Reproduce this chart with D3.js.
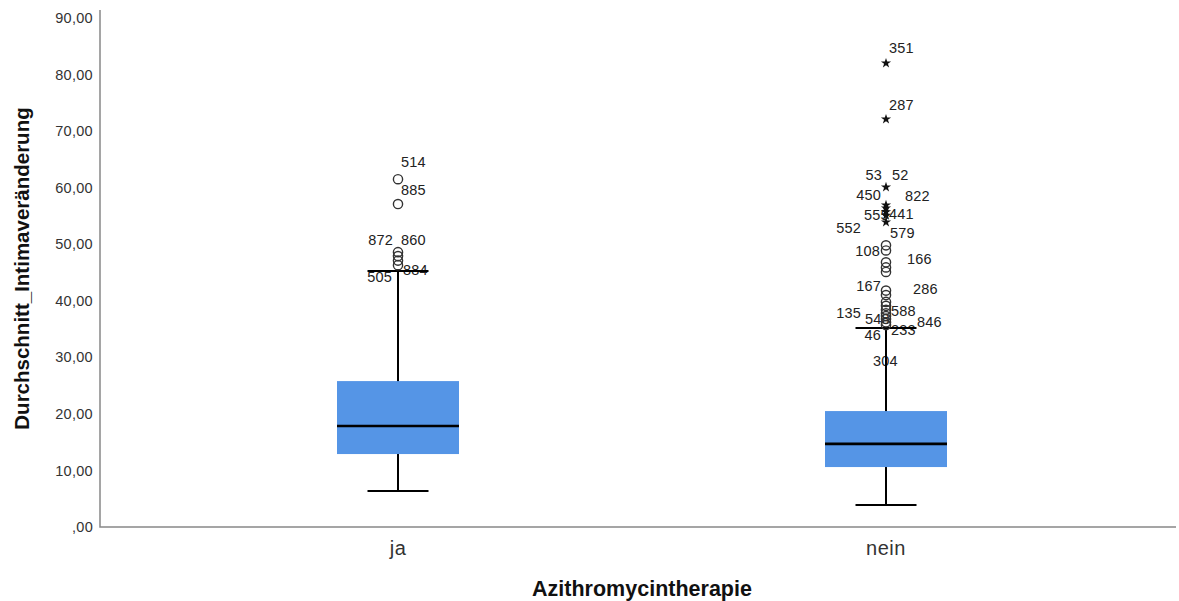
<!DOCTYPE html>
<html>
<head>
<meta charset="utf-8">
<script src="https://cdn.jsdelivr.net/npm/d3@7"></script>
<style>
  html, body { margin: 0; padding: 0; background: #fff; }
  svg { display: block; font-family: "Liberation Sans", Arial, sans-serif; }
</style>
</head>
<body>
<svg id="chart" width="1179" height="601"></svg>
<script>
// Groups and five-number summaries
const categories = ["ja", "nein"];
const q1Values = [12.9, 10.6];
const medianValues = [17.85, 14.7];
const q3Values = [25.8, 20.5];
const whiskerLow = [6.35, 3.9];
const whiskerHigh = [45.25, 35.2];

// Outliers (circles) and extreme values (stars) per group
const outliersJa = [61.5, 57.1, 48.6, 47.9, 47.1, 46.3];
const extremesJa = [];
const outliersNein = [49.8, 48.9, 46.8, 45.9, 45.1, 41.8, 41.0, 39.8, 39.1, 38.4, 37.8, 37.3, 36.8, 36.2, 35.7];
const extremesNein = [82.0, 72.1, 60.1, 56.9, 56.4, 55.7, 55.1, 53.9];

// Case numbers attached to the flagged points
const caseIdsJa = ["514", "885", "872", "860", "505", "884"];
const caseValuesJa = [61.5, 57.1, 48.6, 48.6, 46.3, 46.3];
const caseIdsNein = ["351", "287", "53", "52", "450", "822", "552", "555", "441", "579",
                     "108", "166", "167", "286", "135", "588", "548", "846", "46", "233", "304"];
const caseValuesNein = [82.0, 72.1, 60.1, 60.1, 56.9, 56.9, 53.9, 55.1, 55.7, 53.9,
                        49.8, 46.8, 41.8, 41.0, 37.8, 38.4, 36.8, 36.2, 35.7, 35.7, 35.2];

// Y tick values
const yTicks = [0, 10, 20, 30, 40, 50, 60, 70, 80, 90];

// Label placement around each point (pixel offsets, text anchor)
const labelPlacementJa = [
  [3, -17, "start"], [3, -14, "start"], [-5, -12, "end"], [3, -12, "start"],
  [-6, 12, "end"], [5, 5, "start"]
];
const labelPlacementNein = [
  [3, -15, "start"], [3, -14, "start"], [-4, -12, "end"], [6, -12, "start"],
  [-5, -10, "end"], [19, -9, "start"], [-25, 6, "end"], [-22, 0, "start"],
  [3, 2, "start"], [4, 11, "start"], [-6, 6, "end"], [21, -3, "start"],
  [-5, -5, "end"], [27, -6, "start"], [-25, 0, "end"], [5, 1, "start"],
  [-21, 0, "start"], [31, 0, "start"], [-5, 10, "end"], [5, 5, "start"],
  [-13, 33, "start"]
];

const groups = categories.map((c, i) => ({
  name: c,
  q1: q1Values[i], med: medianValues[i], q3: q3Values[i],
  lo: whiskerLow[i], hi: whiskerHigh[i],
  outliers: [outliersJa, outliersNein][i],
  extremes: [extremesJa, extremesNein][i],
  labels: [caseIdsJa, caseIdsNein][i].map((id, k) => ({
    id,
    v: [caseValuesJa, caseValuesNein][i][k],
    place: [labelPlacementJa, labelPlacementNein][i][k]
  }))
}));

const svg = d3.select("#chart");
const plotLeft = 100, plotRight = 1176, plotTop = 10, plotBottom = 527;

const x = d3.scaleBand().domain(categories).range([154, 1130]).paddingInner(0).paddingOuter(0);
const y = d3.scaleLinear().domain([0, 90]).range([plotBottom, 18]);
const boxW = x.bandwidth() * 0.25;
const capW = boxW * 0.5;
const cx = d => x(d) + x.bandwidth() / 2;

// Axes
const yAxis = d3.axisLeft(y).tickValues(yTicks).tickSize(0).tickPadding(7)
  .tickFormat(d => d === 0 ? ",00" : d3.format(".2f")(d).replace(".", ","));
const gy = svg.append("g").attr("transform", `translate(${plotLeft},0)`).call(yAxis);
gy.select(".domain").remove();
gy.selectAll("text").attr("font-size", 14.5).attr("fill", "#333").attr("letter-spacing", "0.3px")
  .attr("font-family", "'Liberation Sans', Arial, sans-serif");

const xAxis = d3.axisBottom(x).tickSize(0).tickPadding(14);
const gx = svg.append("g").attr("transform", `translate(0,${plotBottom})`).call(xAxis);
gx.select(".domain").remove();
gx.selectAll("text").attr("font-size", 20).attr("fill", "#333").attr("letter-spacing", "0.5px")
  .attr("font-family", "'Liberation Sans', Arial, sans-serif");

svg.append("path")
  .attr("d", `M${plotLeft},${plotTop}V${plotBottom}H${plotRight}`)
  .attr("fill", "none").attr("stroke", "#888").attr("stroke-width", 1.5);

// Axis titles
svg.append("text")
  .attr("transform", `translate(29,${(plotTop + plotBottom) / 2}) rotate(-90)`)
  .attr("text-anchor", "middle").attr("font-weight", "bold").attr("font-size", 20.5)
  .attr("fill", "#111").text("Durchschnitt_Intimaveränderung");
svg.append("text")
  .attr("x", 642).attr("y", 596)
  .attr("text-anchor", "middle").attr("font-weight", "bold").attr("font-size", 21.5)
  .attr("fill", "#111").text("Azithromycintherapie");

const g = svg.selectAll("g.box").data(groups).join("g").attr("class", "box");

// Case labels (drawn beneath the marks)
g.each(function (d) {
  d3.select(this).selectAll("text.lab").data(d.labels).join("text")
    .attr("class", "lab")
    .attr("x", l => cx(d.name) + l.place[0])
    .attr("y", l => y(l.v) + l.place[1])
    .attr("dominant-baseline", "central")
    .attr("text-anchor", l => l.place[2])
    .attr("font-size", 14.5).attr("letter-spacing", "0.2px")
    .attr("fill", "#222")
    .text(l => l.id);
});

// Whiskers and caps
g.append("line")
  .attr("x1", d => cx(d.name)).attr("x2", d => cx(d.name))
  .attr("y1", d => y(d.lo)).attr("y2", d => y(d.hi))
  .attr("stroke", "#000").attr("stroke-width", 2);
["lo", "hi"].forEach(k => {
  g.append("line")
    .attr("x1", d => cx(d.name) - capW / 2).attr("x2", d => cx(d.name) + capW / 2)
    .attr("y1", d => y(d[k])).attr("y2", d => y(d[k]))
    .attr("stroke", "#000").attr("stroke-width", 2);
});

// Boxes
g.append("rect")
  .attr("x", d => cx(d.name) - boxW / 2).attr("width", boxW)
  .attr("y", d => y(d.q3)).attr("height", d => y(d.q1) - y(d.q3))
  .attr("fill", "#5595e6");
g.append("line")
  .attr("x1", d => cx(d.name) - boxW / 2).attr("x2", d => cx(d.name) + boxW / 2)
  .attr("y1", d => y(d.med)).attr("y2", d => y(d.med))
  .attr("stroke", "#000").attr("stroke-width", 2.6);

// Outlier circles
g.each(function (d) {
  d3.select(this).selectAll("circle").data(d.outliers).join("circle")
    .attr("cx", cx(d.name)).attr("cy", v => y(v)).attr("r", 4.6)
    .attr("fill", "#fff").attr("fill-opacity", 0)
    .attr("stroke", "#333").attr("stroke-width", 1.4);
});

// Extreme stars
const star = d3.symbol().type(d3.symbolStar).size(32);
g.each(function (d) {
  d3.select(this).selectAll("path.star").data(d.extremes).join("path")
    .attr("class", "star")
    .attr("transform", v => `translate(${cx(d.name)},${y(v)})`)
    .attr("d", star).attr("fill", "#111");
});
</script>
</body>
</html>
